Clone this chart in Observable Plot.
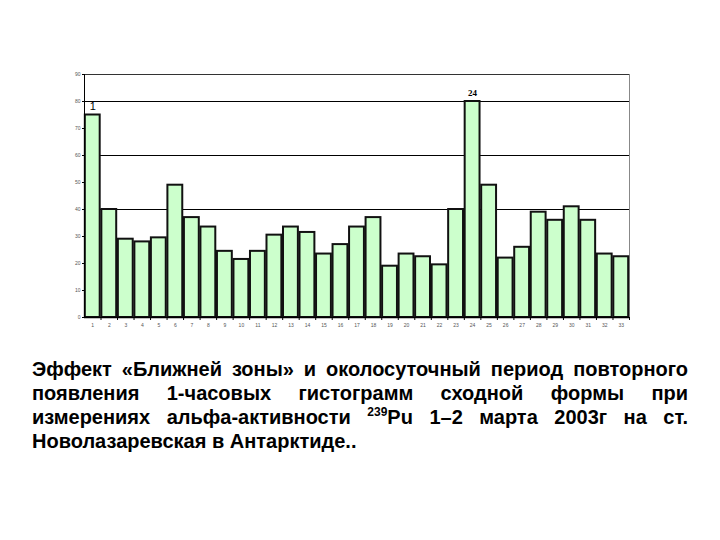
<!DOCTYPE html>
<html>
<head>
<meta charset="utf-8">
<script src="https://cdn.jsdelivr.net/npm/d3@7"></script>
<script src="https://cdn.jsdelivr.net/npm/@observablehq/plot@0.6"></script>
<style>
  html, body { margin: 0; padding: 0; background: #fff; }
  #wrap { position: relative; width: 720px; height: 540px; overflow: hidden; }
  #chart { position: absolute; left: 0; top: 0; }
  #caption {
    position: absolute; left: 32px; top: 357px; width: 656px;
    font-family: "Liberation Sans", Arial, sans-serif; font-weight: bold;
    font-size: 20px; line-height: 24px; color: #000;
  }
  #caption .j { text-align: justify; text-align-last: justify; white-space: nowrap; }
  #caption sup { font-size: 12px; vertical-align: 8px; line-height: 0; }
</style>
</head>
<body>
<div id="wrap">
  <div id="chart"></div>
  <div id="caption">
    <div class="j">Эффект «Ближней зоны» и околосуточный период повторного</div>
    <div class="j">появления 1-часовых гистограмм сходной формы при</div>
    <div class="j">измерениях альфа-активности <sup>239</sup>Pu 1–2 марта 2003г на ст.</div>
    <div>Новолазаревская в Антарктиде..</div>
  </div>
</div>
<script>
const hours = [1,2,3,4,5,6,7,8,9,10,11,12,13,14,15,16,17,18,19,20,21,22,23,24,25,26,27,28,29,30,31,32,33];
const counts = [75,40,29,28,29.5,49,37,33.5,24.5,21.5,24.5,30.5,33.5,31.5,23.5,27,33.5,37,19,23.5,22.5,19.5,40,80,49,22,26,39,36,41,36,23.5,22.5];
const yTicks = [0,10,20,30,40,50,60,70,80,90];
const gridValues = [40,60,80];
const markedHours = [1,24];
const markedLabels = ["1","24"];

const data = hours.map((h,i) => ({hour: h, value: counts[i]}));
const marks = markedHours.map((h,i) => ({hour: h, value: counts[hours.indexOf(h)], label: markedLabels[i]}));

const chart = Plot.plot({
  width: 720,
  height: 340,
  marginLeft: 84,
  marginRight: 91,
  marginTop: 74,
  marginBottom: 23,
  style: {fontFamily: "Liberation Sans, Arial, sans-serif", background: "#fff"},
  x: {type: "band", domain: hours, paddingInner: 0.1, paddingOuter: 0.05, round: false},
  y: {domain: [0, 90]},
  marks: [
    Plot.ruleY(gridValues, {stroke: "#000", strokeWidth: 1}),
    Plot.ruleY([90], {stroke: "#333", strokeWidth: 1}),
    Plot.frame({anchor: "right", stroke: "#888"}),
    Plot.barY(data, {x: "hour", y: "value", fill: "#ccffcc", stroke: "#111", strokeWidth: 2}),
    Plot.ruleY([0], {stroke: "#000", strokeWidth: 1.5}),
    Plot.frame({anchor: "left", stroke: "#000"}),
    Plot.axisY({ticks: yTicks, tickSize: 2, tickPadding: 2, fontSize: 5, fill: "#555", label: null}),
    Plot.axisX({tickSize: 3, dx: 8.25, text: null, label: null, stroke: "#000"}),
    Plot.axisX({tickSize: 0, tickPadding: 6, fontSize: 5, fill: "#555", label: null}),
    Plot.text(marks.filter(d => d.label === "1"), {x: "hour", y: "value", text: "label", dy: -9, fontSize: 11, fill: "#000"}),
    Plot.text(marks.filter(d => d.label === "24"), {x: "hour", y: "value", text: "label", dy: -8, fontSize: 9, fontWeight: "bold", fontFamily: "Liberation Serif, serif", fill: "#000"})
  ]
});
document.getElementById("chart").appendChild(chart);
</script>
</body>
</html>
